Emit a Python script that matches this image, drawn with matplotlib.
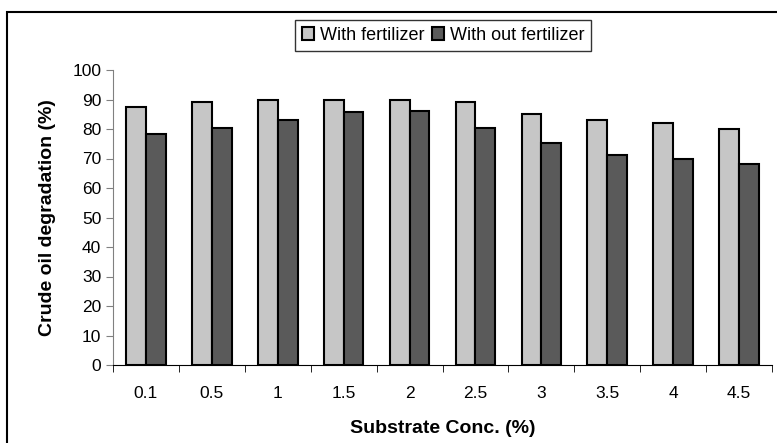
import matplotlib.pyplot as plt
from matplotlib.patches import Rectangle
import numpy as np

# data
conc = ['0.1', '0.5', '1', '1.5', '2', '2.5', '3', '3.5', '4', '4.5']
with_fert = [87.3, 89.2, 89.8, 89.8, 89.8, 89.2, 85.0, 83.0, 81.9, 80.1]
without_fert = [78.3, 80.2, 83.0, 85.6, 86.1, 80.2, 75.3, 71.2, 69.7, 68.1]

plt.rcParams['font.family'] = ['Liberation Sans', 'DejaVu Sans']

fig = plt.figure(figsize=(7.77, 4.43), dpi=100)
ax = fig.add_axes([113/777, 1 - 365/443, (772 - 113)/777, (365 - 70)/443])

# outer frame (runs off the right and bottom edge like the original)
fig.patches.append(Rectangle((7/777, -0.1), 1.2, 1 - 12/443 + 0.1,
                             transform=fig.transFigure, fill=False,
                             edgecolor='black', linewidth=1.5, zorder=0))

x = np.arange(len(conc))
w = 0.3
ax.bar(x - w/2, with_fert, w, color='#c6c6c6', edgecolor='black',
       linewidth=1.5, label='With fertilizer')
ax.bar(x + w/2, without_fert, w, color='#5a5a5a', edgecolor='black',
       linewidth=1.5, label='With out fertilizer')

ax.set_xlim(-0.5, len(conc) - 0.5)
ax.set_ylim(0, 100)
ax.set_yticks(range(0, 101, 10))
ax.set_xticks(x)
ax.set_xticklabels(conc)
ax.set_xticks(np.arange(-0.5, len(conc), 1), minor=True)
ax.tick_params(axis='x', which='major', length=0, pad=15, labelsize=12.5)
ax.tick_params(axis='x', which='minor', length=5, direction='out', color='black')
ax.tick_params(axis='y', length=5, direction='out', color='#808080', labelsize=12.5)

for s in ['top', 'right']:
    ax.spines[s].set_visible(False)
ax.spines['left'].set_color('#808080')
ax.spines['bottom'].set_color('black')

ax.set_xlabel('Substrate Conc. (%)', fontsize=14, fontweight='bold', labelpad=14)
ax.set_ylabel('Crude oil degradation (%)', fontsize=14, fontweight='bold', labelpad=12)

leg = fig.legend(loc='center', ncol=2, fontsize=13,
                 bbox_to_anchor=(283/777, 1 - 54/443, 320/777, 37/443),
                 frameon=True, fancybox=False, edgecolor='black',
                 handlelength=0.7, handleheight=0.7, handletextpad=0.3,
                 columnspacing=0.4, borderaxespad=0)
leg.get_frame().set_linewidth(1.0)

fig.savefig('out.png', dpi=100)
